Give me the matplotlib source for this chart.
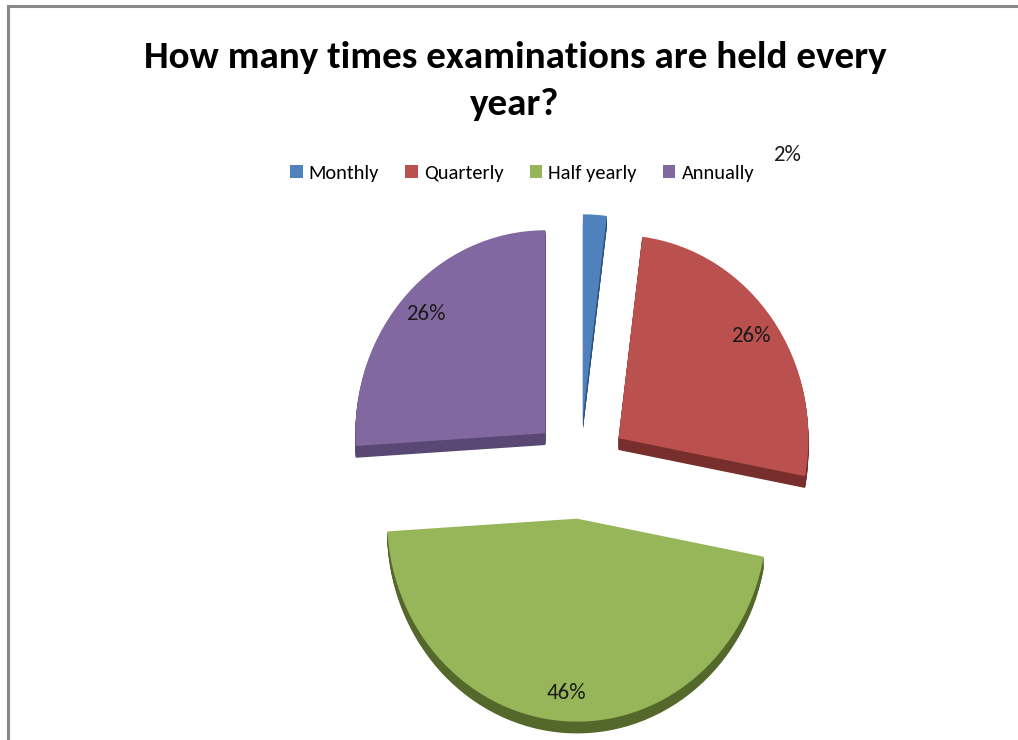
import matplotlib
matplotlib.use("Agg")
import matplotlib.pyplot as plt
from matplotlib.patches import Patch
from matplotlib.lines import Line2D
from matplotlib import font_manager

# Survey answers (percent of respondents)
labels = ["Monthly", "Quarterly", "Half yearly", "Annually"]
shares = [2, 26, 46, 26]
title = "How many times examinations are held every\nyear?"

top_colors = ["#4F81BD", "#BA514E", "#97B65A", "#8268A0"]
side_colors = ["#2F5480", "#772E2C", "#55682C", "#594873"]

# Calibri-like face if one is installed
names = {f.name for f in font_manager.fontManager.ttflist}
candidates = ["Carlito", "Calibri", "PT Sans Narrow", "Roboto Condensed",
              "Open Sans Condensed", "Liberation Sans Narrow", "Archivo Narrow",
              "Open Sans"]
face = next((c for c in candidates if c in names), "DejaVu Sans")
plt.rcParams["font.family"] = [face, "DejaVu Sans"]

fig = plt.figure(figsize=(10.18, 7.40), dpi=100)
ax = fig.add_axes([0, 0, 1, 1])

explode = [0.25] * len(shares)
depth = 0.058
steps = 14

# extruded side of the 3-d pie: stacked copies shifted downward
for k in range(steps, 0, -1):
    ax.pie(shares, explode=explode, colors=side_colors, startangle=90,
           counterclock=False, center=(0, -depth * k / steps),
           wedgeprops=dict(linewidth=0))

wedges, texts, autotexts = ax.pie(
    shares, explode=explode, colors=top_colors, startangle=90,
    counterclock=False, autopct="%.0f%%", pctdistance=0.86,
    wedgeprops=dict(linewidth=0),
    textprops=dict(fontsize=16.5, color="#1a1a1a"))

# small slice: value label sits outside, up to the right
autotexts[0].set_position((1.09, 1.54))

ax.set_aspect("auto")
ax.set_xlim(-580 / 190, (1018 - 580) / 190)
ax.set_ylim(-272 / 203, (740 - 272) / 203)
ax.axis("off")

renderer = fig.canvas.get_renderer()

# title, sized so the first line spans about 740 px
line1 = title.split("\n")[0]
probe = fig.text(0, 0, line1, fontsize=30, fontweight="bold")
w = probe.get_window_extent(renderer).width
probe.remove()
tsize = min(36, 30 * 740 / w)
fig.text(0.506, 0.8905, title, ha="center", va="center", fontsize=tsize,
         fontweight="bold", linespacing=1.55, color="black")

handles = [Patch(facecolor=c, edgecolor="none") for c in top_colors]
leg_size = 15
for _ in range(2):
    leg = fig.legend(handles, labels, loc="center", bbox_to_anchor=(0.513, 0.766),
                     ncol=4, frameon=False, fontsize=leg_size, handlelength=0.6,
                     handleheight=0.6, handletextpad=0.3, columnspacing=1.3)
    lw = leg.get_window_extent(renderer).width
    if abs(lw - 480) < 10:
        break
    leg.remove()
    leg_size = min(16, leg_size * 480 / lw)

# chart frame (top and left edges)
fig.add_artist(Line2D([0.0075, 1.0], [0.9915, 0.9915], color="#888888", lw=2.2,
                      transform=fig.transFigure))
fig.add_artist(Line2D([0.0075, 0.0075], [0.0, 0.9915], color="#888888", lw=2.2,
                      transform=fig.transFigure))

fig.savefig("out.png", dpi=100)
